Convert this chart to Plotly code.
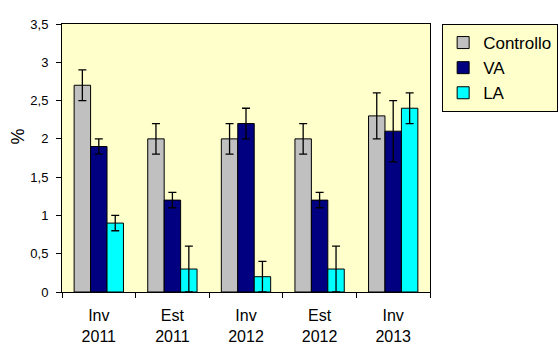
import plotly.graph_objects as go

# Sampling periods (season + year)
periods = ["Inv<br>2011", "Est<br>2011", "Inv<br>2012", "Est<br>2012", "Inv<br>2013"]

# Mean percentages per treatment
controllo = [2.7, 2.0, 2.0, 2.0, 2.3]
va = [1.9, 1.2, 2.2, 1.2, 2.1]
la = [0.9, 0.3, 0.2, 0.3, 2.4]

# Error bar half-widths
controllo_err = [0.2, 0.2, 0.2, 0.2, 0.3]
va_err = [0.1, 0.1, 0.2, 0.1, 0.4]
la_err = [0.1, 0.3, 0.2, 0.3, 0.2]

# Y-axis ticks
y_ticks = [0, 0.5, 1, 1.5, 2, 2.5, 3, 3.5]
y_labels = ["0", "0,5", "1", "1,5", "2", "2,5", "3", "3,5"]

series = [
    ("Controllo", controllo, controllo_err, "#C0C0C0"),
    ("VA", va, va_err, "#000080"),
    ("LA", la, la_err, "#00FFFF"),
]

fig = go.Figure()
for name, vals, errs, color in series:
    fig.add_trace(go.Bar(
        name=name,
        x=periods,
        y=vals,
        marker=dict(color=color, line=dict(color="black", width=1)),
        error_y=dict(type="data", array=errs, visible=True,
                     color="black", thickness=1.3, width=4),
    ))

font = "Liberation Sans, Arial, sans-serif"

fig.update_layout(
    width=559, height=347,
    margin=dict(l=62, r=129, t=24, b=55, autoexpand=False),
    paper_bgcolor="white",
    plot_bgcolor="#FFFFCC",
    barmode="group",
    bargap=0.33,
    bargroupgap=0,
    separators=",.",
    font=dict(family=font, size=13, color="black"),
    showlegend=True,
    legend=dict(
        x=1.033, y=1, xanchor="left", yanchor="top",
        bgcolor="#FFFFCC", bordercolor="black", borderwidth=1,
        font=dict(family=font, size=17, color="black"),
        itemwidth=30, tracegroupgap=0,
    ),
    xaxis=dict(
        type="category", automargin=False,
        showline=True, linecolor="black", linewidth=1, mirror=True,
        ticks="outside", tickson="boundaries", ticklen=5, tickcolor="black",
        tickfont=dict(family=font, size=16, color="black"),
        ticklabelstandoff=9,
        showgrid=False,
    ),
    yaxis=dict(
        range=[0, 3.5], automargin=False,
        tickvals=y_ticks, ticktext=y_labels,
        showline=True, linecolor="black", linewidth=1, mirror=True,
        ticks="outside", ticklen=5, tickcolor="black",
        tickfont=dict(family=font, size=13, color="black"),
        ticklabelstandoff=5,
        showgrid=False, zeroline=False,
    ),
    annotations=[dict(
        text="%", textangle=-90, showarrow=False,
        xref="paper", yref="paper", x=-0.12, y=0.58,
        xanchor="center", yanchor="middle",
        font=dict(family=font, size=18, color="black"),
    )],
)

fig.write_html("out.html")
